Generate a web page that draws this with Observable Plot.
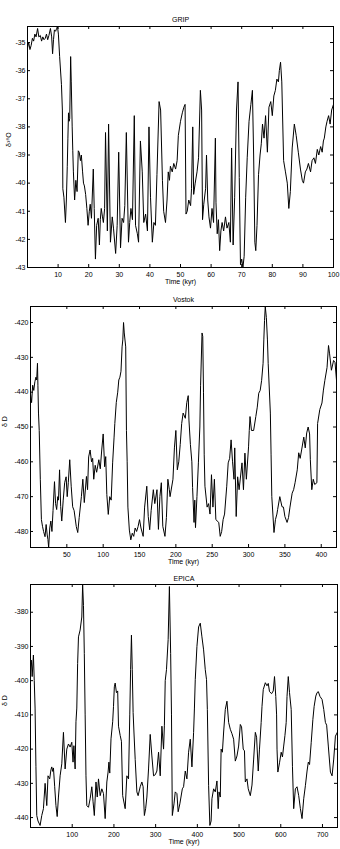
<!DOCTYPE html>
<html>
<head>
<meta charset="utf-8">
<script src="https://cdn.jsdelivr.net/npm/d3@7"></script>
<script src="https://cdn.jsdelivr.net/npm/@observablehq/plot@0.6"></script>
<style>
  html, body { margin: 0; padding: 0; background: #fff; }
  #fig { width: 340px; }
  #fig svg { display: block; }
</style>
</head>
<body>
<div id="fig"></div>
<script>
// GRIP ice core, oxygen isotope ratio (permil) against age (kyr)
const gripTime = [0,0.4,0.8,1.2,1.6,2.0,2.4,2.8,3.3,3.7,4.2,4.6,5.0,5.4,5.8,6.2,6.6,7.0,7.5,7.9,8.2,8.5,8.8,9.2,9.5,9.8,10.1,10.5,11.1,11.4,11.55,11.9,12.4,12.7,13.0,13.2,13.4,13.6,13.8,14.1,14.3,14.6,14.8,15.0,15.4,15.8,16.2,16.6,16.9,17.3,17.6,18.0,18.3,18.6,19.0,19.4,19.8,20.2,20.5,20.9,21.5,21.8,22.2,22.6,23.1,23.5,23.8,24.1,24.5,24.8,25.2,25.5,26.1,26.5,27.1,27.7,28.1,28.8,29.3,29.8,30.4,30.9,31.4,31.8,32.3,33.0,33.4,33.8,34.3,34.9,35.3,35.9,36.3,36.9,37.5,38.0,38.6,39.2,39.7,40.2,40.8,41.3,41.8,42.3,43.0,43.5,44.1,44.5,45.1,45.6,46.0,46.4,46.7,47.3,47.8,48.4,48.9,49.3,50.0,50.6,51.1,51.5,51.8,52.2,52.7,53.3,53.6,54.0,54.3,54.8,55.4,55.9,56.5,56.9,57.2,57.6,58.2,58.5,58.9,59.3,59.8,60.3,60.8,61.4,61.6,62.0,62.4,62.8,63.2,63.6,64.1,64.7,65.2,65.8,66.3,66.7,67.2,67.7,68.3,68.8,69.2,69.6,70.0,70.4,70.8,71.3,71.8,72.4,73.0,73.5,73.9,74.3,74.6,75.0,75.5,76.0,76.4,76.8,77.3,77.8,78.4,78.9,79.5,80.0,80.5,81.0,81.5,82.0,82.3,82.7,83.1,83.7,84.3,84.9,85.4,85.9,86.5,87.2,87.8,88.5,89.2,89.8,90.2,90.8,91.3,91.8,92.5,93.0,93.6,94.1,94.7,95.2,95.8,96.3,96.7,97.0,97.5,97.9,98.4,98.9,99.4,100];
const gripD18O = [-35.2,-35.0,-35.25,-35.1,-34.85,-34.95,-34.7,-34.8,-34.5,-34.8,-34.75,-34.95,-34.8,-34.9,-34.85,-34.7,-34.9,-34.75,-34.5,-34.8,-35.4,-34.9,-34.55,-34.6,-34.5,-34.43,-34.7,-35.5,-36.5,-37.4,-40.2,-40.5,-41.4,-40.6,-39.4,-38.4,-37.5,-37.8,-37.7,-35.5,-36.4,-38.0,-38.85,-39.6,-40.6,-39.9,-40.3,-38.85,-38.9,-39.2,-39.0,-39.6,-40.0,-40.1,-40.4,-40.9,-41.5,-41.0,-40.75,-41.25,-39.5,-40.9,-42.7,-41.5,-41.25,-42.2,-41.3,-40.9,-41.2,-41.4,-40.9,-38.2,-41.7,-37.9,-42.1,-41.2,-41.6,-42.5,-41.5,-38.9,-42.3,-41.25,-41.4,-40.8,-38.2,-42.1,-41.4,-40.9,-41.3,-37.6,-41.5,-41.8,-42.1,-38.5,-39.6,-41.4,-41.1,-41.7,-38.0,-40.5,-42.1,-41.4,-41.5,-39.7,-37.1,-37.4,-39.9,-41.0,-41.4,-40.6,-39.6,-39.9,-39.4,-39.6,-39.3,-39.5,-39.2,-38.3,-37.8,-37.5,-37.3,-37.2,-41.1,-41.0,-40.6,-40.8,-40.2,-38.0,-40.4,-40.0,-39.6,-39.1,-36.7,-37.4,-41.3,-40.75,-40.2,-39.0,-40.6,-41.2,-41.6,-40.9,-41.4,-38.4,-40.7,-41.8,-41.3,-42.4,-41.7,-41.4,-41.7,-41.2,-41.6,-41.4,-42.1,-38.75,-42.2,-40.5,-37.4,-36.4,-39.8,-42.9,-42.7,-43.0,-42.6,-40.5,-39.1,-37.8,-37.2,-36.7,-39.0,-42.1,-42.4,-41.5,-39.7,-39.0,-38.6,-37.9,-38.4,-37.6,-38.9,-37.3,-37.1,-37.6,-36.9,-36.7,-36.3,-36.4,-36.0,-35.7,-36.4,-39.2,-39.6,-40.0,-40.9,-40.3,-38.75,-37.9,-38.3,-38.9,-39.5,-39.9,-40.0,-39.6,-39.5,-39.3,-39.6,-39.2,-39.1,-39.3,-38.8,-39.0,-38.7,-38.9,-38.5,-38.4,-38.0,-37.8,-37.6,-37.9,-37.4,-37.2];
const gripXTicks = [10, 20, 30, 40, 50, 60, 70, 80, 90, 100];
const gripYTicks = [-43, -42, -41, -40, -39, -38, -37, -36, -35];

// Vostok ice core, deuterium (permil) against age (kyr)
const vostokTime = [0,1.5,3,4.5,6,7.5,8.5,9.6,10.2,11,12,13.5,15,16.5,18,20,21.5,23,24,25,26.5,28,29.5,31,33,34.5,36,37.5,38.5,40,41.5,43,45,47,49,50.5,52,54,56,58,60,63,65,67,70,72,74,77,78.5,80,82,84,85.5,87,89,91,94,96,98,100,102,103.5,105,107,109,111,113,115,116,118,120,121.5,123,124.5,126,127,128,129,131,132,133,134,136,138,140,142,144,146,148,150,152,155,157,160,162,164,166,169,171,174,176,178,180,182,185,187,189,191,192,196,198,200,202,204,206,208,210,213,215,217,218,220,222,223,225,226,227,229,231,233,234,236,237,238,239,240,243,245,247,249,251,253,255,259,261,263,265,267,270,272,274,276,278,280,281,283,285,287,291,293,295,297,300,301,302,304,307,310,312,314,316,318,320,321,322,323,324.5,326,327,330,331,332,335,337,339,340,343,346,348,350,353,355,357,360,362,364,367,369,371,373,376,378,380,382,384,385,387,389,391,394,395,398,401,403,405,408,410,411.5,414,417,419,421];
const vostokDD = [-440.5,-443,-438,-439.5,-437,-435.7,-436.5,-431.7,-438,-446,-451,-465,-476.6,-478.5,-480,-481.5,-478,-481,-482.3,-484.6,-479,-477,-480,-474,-465.7,-472,-473.7,-470,-471,-462.3,-472.8,-477,-471,-466,-464.3,-470,-466,-459.4,-467,-472.9,-474,-478.6,-480.3,-476,-470,-465,-471.7,-464.2,-468,-458.6,-456.6,-460,-459,-465,-461,-463,-459.4,-462,-456.6,-452,-461.4,-458.5,-469.4,-475.1,-470,-471,-460.3,-452.9,-449,-443,-440,-436.5,-435.7,-434,-427,-425,-420,-423,-427,-451,-460,-473,-479.6,-482.4,-480.5,-481.4,-479,-480,-478.6,-476.6,-479,-481.4,-473,-467,-475.7,-479.5,-474,-468,-472,-468,-479.4,-470,-466,-478.5,-481.4,-476,-465,-468,-470,-465,-456,-451,-462.3,-460,-455,-449,-446,-447.5,-443,-441,-448,-455,-460,-467.4,-477.4,-471,-478.9,-470,-460.3,-450,-438,-423,-424,-440,-458,-467,-473,-472,-475,-463.7,-473,-465,-476.6,-477.4,-481.4,-480,-476.6,-475,-467,-460.3,-459,-453.7,-460,-465,-456,-475.7,-464.3,-468,-460.3,-468,-457.5,-465,-455.7,-451,-447,-451,-451,-447,-444.3,-440.3,-439.5,-436.6,-431.7,-425,-419.4,-415.4,-418.6,-425,-431.7,-446,-458,-470,-480.3,-476.6,-475,-473.7,-470,-472.9,-473,-475.7,-477.4,-476,-473,-469,-468,-466,-462.3,-457.4,-459,-456.6,-452.9,-456,-451.7,-450,-452,-459.4,-468,-465,-466.5,-466,-449,-445,-443.1,-439.4,-436.6,-432.9,-426.6,-429,-433.7,-430.9,-431.5,-436.6];
const vostokXTicks = [50, 100, 150, 200, 250, 300, 350, 400];
const vostokYTicks = [-480, -470, -460, -450, -440, -430, -420];

// EPICA Dome C ice core, deuterium (permil) against age (kyr)
const epicaTime = [0,2,4,7,9,11,13,15,18,23,27,31,35,39,42,46,49,51,53,55,58,61,64,67,71,75,79,83,87,91,95,99,102,104,107,109,111,113,115,119,123,125,127,129,131,133,135,139,143,147,150,153,157,160,163,167,171,175,179,183,186,188,190,193,197,199,201,203,206,209,211,215,218,221,227,231,235,238,240,242,244,246,248,251,255,258,263,267,270,273,276,279,283,287,291,295,299,303,307,311,315,319,321,323,326,330,333,336,338,340,344,347,351,354,358,364,367,371,375,379,383,387,391,393,395,399,403,407,411,415,419,422,424,427,430,433,435,439,443,447,450,452,455,457,460,463,467,471,475,479,483,487,491,495,499,503,506,510,513,515,519,522,527,531,535,539,542,546,549,553,555,558,563,567,570,573,578,582,585,588,590,591,593,597,601,604,607,610,613,615,618,621,625,628,631,635,639,643,647,651,655,659,663,666,669,673,677,680,684,687,690,694,699,703,707,710,714,719,723,727,731,736];
const epicaDD = [-396,-394,-398.8,-392.5,-400,-408,-425,-439.4,-441,-442.3,-439.4,-437.4,-430,-436.5,-427.8,-428.7,-426,-425.2,-426.5,-425.5,-431,-436.5,-439.7,-434,-427.8,-424.3,-415.1,-425.8,-420,-418.5,-419.4,-418,-423.8,-419,-425.8,-412,-408,-395,-387.2,-385.2,-381.4,-371.9,-378,-392,-410,-427.8,-436.5,-437,-434.5,-431,-435.4,-439.4,-429.6,-434,-428.7,-433.6,-431.6,-433,-440.3,-429.6,-426.7,-423.8,-427,-417,-412,-407.5,-401.8,-400.7,-403.5,-403,-413.3,-416,-417.7,-433.6,-437.4,-427.8,-428.7,-410,-396.8,-386.7,-396.8,-409.3,-415,-423,-432.5,-433.6,-431,-429.6,-431,-439.4,-437.4,-434,-425.8,-415.7,-422,-427.8,-427.5,-426.4,-420.9,-427.8,-413.3,-420,-413,-400,-396.8,-388,-372.5,-392,-410,-439.4,-436,-432.5,-433,-438.3,-436,-431.6,-431,-426.4,-428.7,-420.9,-417.1,-425.2,-415.1,-408,-399.7,-390,-384.3,-383.2,-387.2,-391,-396.8,-399.7,-408.4,-430.7,-442.3,-441,-434.5,-431.6,-432.5,-429.3,-437.4,-432.5,-434,-420,-420.9,-415,-408.4,-406,-412.2,-414.2,-415.5,-417.1,-423.5,-422,-419.1,-412.8,-413.5,-420,-420.5,-429.6,-428.7,-431.6,-433.6,-430.5,-422.9,-415.1,-416.5,-426.4,-420,-412.2,-407.5,-402.6,-400.6,-401.5,-400.8,-403.2,-403.8,-403,-398.8,-404.6,-410,-420,-426.7,-424,-420.9,-422.3,-419.1,-416,-412.2,-404.6,-398.8,-403.5,-408.4,-425,-437.4,-431.6,-431,-433.6,-437.4,-440.3,-434.5,-430.7,-426.4,-423.8,-424.5,-418,-411.3,-407.5,-404.5,-403.5,-403.2,-404.6,-405.5,-408.4,-412.2,-413,-419.1,-426.7,-427.8,-422.9,-416.2,-415];
const epicaXTicks = [100, 200, 300, 400, 500, 600, 700];
const epicaYTicks = [-440, -430, -420, -410, -400, -390, -380];

const FONT = "'Liberation Sans', Arial, Helvetica, sans-serif";
const TICK = 3; // inward tick length, px

// One boxed time-series panel: title above, inward ticks on all four sides
function panel(cfg) {
  const [mt, mr, mb, ml] = cfg.margin;
  const innerH = cfg.height - mt - mb;
  const innerW = 340 - ml - mr;
  const rows = cfg.time.map((t, i) => ({t, v: cfg.values[i]}));
  return Plot.plot({
    width: 340,
    height: cfg.height,
    marginTop: mt, marginRight: mr, marginBottom: mb, marginLeft: ml,
    style: {fontFamily: FONT, fontSize: "7px", color: "#000", background: "#fff", overflow: "visible"},
    x: {domain: cfg.xDomain},
    y: {domain: cfg.yDomain},
    marks: [
      Plot.line(rows, {x: "t", y: "v", stroke: "#000", strokeWidth: 1, clip: true}),
      Plot.ruleX(cfg.xTicks, {insetTop: innerH - TICK, stroke: "#000"}),
      Plot.ruleX(cfg.xTicks, {insetBottom: innerH - TICK, stroke: "#000"}),
      Plot.ruleY(cfg.yTicks, {insetRight: innerW - TICK, stroke: "#000"}),
      Plot.ruleY(cfg.yTicks, {insetLeft: innerW - TICK, stroke: "#000"}),
      Plot.frame({stroke: "#000", strokeWidth: 1}),
      Plot.axisX(cfg.xTicks, {anchor: "bottom", tickSize: 0, tickPadding: 4.5, tickFormat: d => String(d), label: null}),
      Plot.axisY(cfg.yTicks, {anchor: "left", tickSize: 0, tickPadding: 2, tickFormat: d => String(d), label: null}),
      Plot.text([cfg.title], {frameAnchor: "top", dy: cfg.titleDy, text: d => d, fill: "#000"}),
      Plot.text(["Time (kyr)"], {frameAnchor: "bottom", dy: 16, text: d => d, fill: "#000"}),
      Plot.text([cfg.ylabel], {frameAnchor: "left", dx: cfg.ylabelDx, rotate: -90, text: d => d, fill: "#000"})
    ]
  });
}

const fig = document.getElementById("fig");

fig.appendChild(panel({
  title: "GRIP", ylabel: "δ¹⁸O",
  time: gripTime, values: gripD18O,
  xDomain: [0, 100], yDomain: [-43, -34.43],
  xTicks: gripXTicks, yTicks: gripYTicks,
  height: 290, margin: [26, 7, 23, 27], titleDy: -9, ylabelDx: -19
}));

fig.appendChild(panel({
  title: "Vostok", ylabel: "δ D",
  time: vostokTime, values: vostokDD,
  xDomain: [0, 421], yDomain: [-484.6, -415.4],
  xTicks: vostokXTicks, yTicks: vostokYTicks,
  height: 282, margin: [16, 4, 25, 30], titleDy: -9, ylabelDx: -25.5
}));

fig.appendChild(panel({
  title: "EPICA", ylabel: "δ D",
  time: epicaTime, values: epicaDD,
  xDomain: [0, 736], yDomain: [-442.9, -371.9],
  xTicks: epicaXTicks, yTicks: epicaYTicks,
  height: 277, margin: [12, 3, 22, 30], titleDy: -8, ylabelDx: -26
}));
</script>
</body>
</html>
